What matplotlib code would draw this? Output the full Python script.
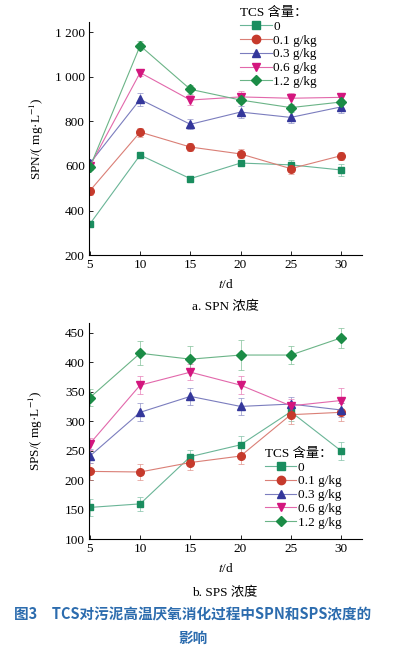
import matplotlib
matplotlib.use('Agg')
import numpy as np
from matplotlib import pyplot as plt
from matplotlib.ticker import FuncFormatter
from matplotlib.lines import Line2D
from matplotlib.colors import to_rgb

plt.rcParams['font.family'] = ['Liberation Serif', 'Noto Sans CJK SC']
plt.rcParams['mathtext.fontset'] = 'stix'

# Datos
dias = [5, 10, 15, 20, 25, 30]
etiquetas = ['0', '0.1 g/kg', '0.3 g/kg', '0.6 g/kg', '1.2 g/kg']

spn_0 = [340, 649, 543, 613, 605, 582]
spn_01 = [489, 752, 685, 654, 588, 646]
spn_03 = [612, 899, 787, 842, 818, 865]
spn_06 = [600, 1019, 896, 910, 904, 908]
spn_12 = [595, 1140, 944, 896, 862, 887]

spn_err_0 = [10, 12, 10, 10, 20, 28]
spn_err_01 = [18, 20, 18, 20, 22, 18]
spn_err_03 = [15, 30, 22, 28, 25, 25]
spn_err_06 = [10, 15, 22, 25, 25, 15]
spn_err_12 = [12, 20, 20, 15, 12, 12]

sps_0 = [154, 160, 240, 260, 316, 250]
sps_01 = [215, 214, 230, 241, 311, 315]
sps_03 = [241, 315, 342, 325, 329, 319]
sps_06 = [262, 361, 383, 361, 326, 335]
sps_12 = [340, 415, 405, 412, 412, 441]

sps_err_0 = [15, 12, 12, 15, 15, 15]
sps_err_01 = [15, 14, 12, 14, 15, 15]
sps_err_03 = [12, 15, 14, 15, 12, 12]
sps_err_06 = [10, 15, 14, 15, 12, 22]
sps_err_12 = [15, 20, 22, 25, 15, 17]

marcadores = ['s', 'o', '^', 'v', 'D']
colores = ['#1a8d5f', '#c63a2c', '#34379b', '#d3167e', '#1b8c46']
tamanos = [5, 5.5, 5.5, 5.5, 5]

def aclarar(c, f=0.35):
    r, g, b = to_rgb(c)
    return (r + (1 - r) * f, g + (1 - g) * f, b + (1 - b) * f)

def miles(v, pos):
    v = int(v)
    if v >= 1000:
        return '%d %03d' % (v // 1000, v % 1000)
    return str(v)

def dibujar(ax, series, errores, ylim, yticks):
    for i in range(len(series)):
        ax.errorbar(dias, series[i], yerr=errores[i], color=aclarar(colores[i]),
                    ecolor=aclarar(colores[i], 0.45), elinewidth=0.5, capsize=2,
                    capthick=0.5, lw=0.8, marker=marcadores[i], markersize=tamanos[i],
                    markerfacecolor=colores[i], markeredgecolor=colores[i])
    ax.set_xlim(4.9, 32.1)
    ax.set_ylim(ylim)
    ax.set_xticks(dias)
    ax.set_yticks(yticks)
    ax.yaxis.set_major_formatter(FuncFormatter(miles))
    ax.spines['top'].set_visible(False)
    ax.spines['right'].set_visible(False)
    ax.spines['left'].set_linewidth(0.8)
    ax.spines['bottom'].set_linewidth(0.8)
    ax.tick_params(direction='in', length=3, width=0.6, labelsize=9.5, pad=3)
    ax.set_xlabel('$t$/d', fontsize=9.5, labelpad=5)

def leyenda(ax, bbox):
    handles = [Line2D([], [], color=aclarar(colores[i]), lw=0.8, marker=marcadores[i],
                      markersize=tamanos[i] + 0.5, markerfacecolor=colores[i],
                      markeredgecolor=colores[i]) for i in range(len(etiquetas))]
    ax.legend(handles, etiquetas, loc='upper left', bbox_to_anchor=bbox, frameon=False,
              title='TCS 含量：', fontsize=9.5, title_fontsize=9.5, handlelength=2.4,
              handletextpad=0.1, labelspacing=0.12, borderpad=0.2, alignment='left')

fig = plt.figure(figsize=(3.97, 6.49), dpi=100)

ax1 = fig.add_axes([0.224, 0.607, 0.688, 0.359])
dibujar(ax1, [spn_0, spn_01, spn_03, spn_06, spn_12],
        [spn_err_0, spn_err_01, spn_err_03, spn_err_06, spn_err_12],
        (200, 1246), [200, 400, 600, 800, 1000, 1200])
ax1.set_ylabel('SPN/( mg·L$^{-1}$)', fontsize=9.5, labelpad=6)
leyenda(ax1, (0.52, 1.105))

ax2 = fig.add_axes([0.224, 0.169, 0.688, 0.334])
dibujar(ax2, [sps_0, sps_01, sps_03, sps_06, sps_12],
        [sps_err_0, sps_err_01, sps_err_03, sps_err_06, sps_err_12],
        (100, 467), [100, 150, 200, 250, 300, 350, 400, 450])
ax2.set_ylabel('SPS/( mg·L$^{-1}$)', fontsize=9.5, labelpad=14)
leyenda(ax2, (0.61, 0.465))

# Subtitulos y pie de figura
fig.text(0.567, 1 - 307 / 649, 'a. SPN 浓度', ha='center', va='center', fontsize=9.5)
fig.text(0.567, 1 - 593 / 649, 'b. SPS 浓度', ha='center', va='center', fontsize=9.5)
fig.text(0.486, 1 - 614 / 649, '图3\u3000TCS对污泥高温厌氧消化过程中SPN和SPS浓度的',
         ha='center', va='center', fontsize=10.5, fontweight='bold', color='#2c6cae',
         family=['Noto Sans CJK SC', 'DejaVu Sans'])
fig.text(0.486, 1 - 638 / 649, '影响', ha='center', va='center', fontsize=10.5,
         fontweight='bold', color='#2c6cae', family=['Noto Sans CJK SC', 'DejaVu Sans'])

fig.savefig('out.png', dpi=100)
